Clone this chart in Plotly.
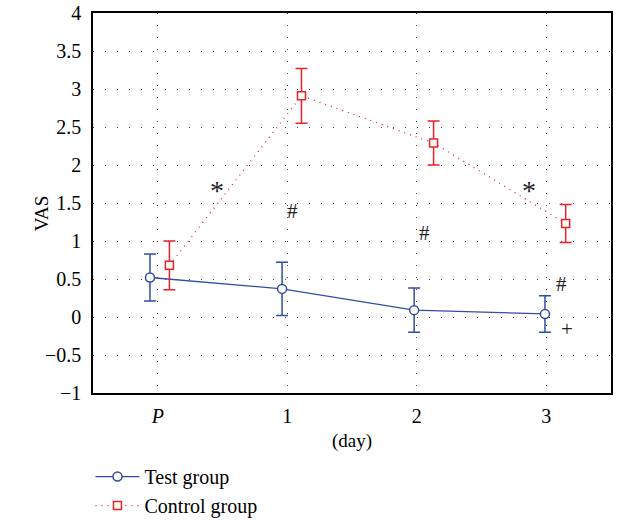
import plotly.graph_objects as go

# Day positions on the x axis (P = pre-operative)
tick_vals = [0, 1, 2, 3]
tick_text = ["<i>P</i>", "1", "2", "3"]

# Test group
test_x = [-0.06, 0.96, 1.98, 2.99]
test_mean = [0.52, 0.37, 0.09, 0.04]
test_err = [0.31, 0.35, 0.29, 0.24]

# Control group
control_x = [0.09, 1.11, 2.13, 3.15]
control_mean = [0.68, 2.91, 2.29, 1.23]
control_err = [0.32, 0.36, 0.29, 0.25]

# Significance marks
mark_text = ["*", "#", "#", "*", "#", "+"]
mark_x = [0.46, 1.04, 2.06, 2.87, 3.12, 3.16]
mark_y = [1.67, 1.39, 1.11, 1.67, 0.44, -0.16]

BLUE = "#2f4fa6"
RED = "#e8232b"
SERIF = "Liberation Serif"

fig = go.Figure()

fig.add_trace(go.Scatter(
    x=test_x, y=test_mean, name="Test group", mode="lines+markers",
    line=dict(color=BLUE, width=1.3),
    marker=dict(symbol="circle", size=9, color="#fffdf5", line=dict(color=BLUE, width=1.5)),
    error_y=dict(type="data", array=test_err, color=BLUE, thickness=1.5, width=6),
))

fig.add_trace(go.Scatter(
    x=control_x, y=control_mean, name="Control group", mode="lines+markers",
    line=dict(color=RED, width=1.3, dash="1px,5px"),
    marker=dict(symbol="square", size=8, color="#fffdf5", line=dict(color=RED, width=1.5)),
    error_y=dict(type="data", array=control_err, color=RED, thickness=1.5, width=6),
))

for t, x, y in zip(mark_text, mark_x, mark_y):
    big = t == "*"
    fig.add_annotation(x=x, y=y, text=t, showarrow=False,
                       font=dict(family=SERIF, size=28 if big else 21, color="#222"))

# y-axis title placed to the left of the tick labels
fig.add_annotation(xref="paper", yref="paper", x=-0.122, y=0.474, text="VAS",
                   textangle=-90, showarrow=False,
                   font=dict(family=SERIF, size=19, color="black"))

axis_common = dict(
    showline=True, linecolor="black", linewidth=1.5, mirror=True,
    showgrid=True, gridcolor="#444", gridwidth=1.2, griddash="1px,11px",
    zeroline=False, ticks="",
    tickfont=dict(family=SERIF, size=20, color="black"),
)

fig.update_layout(
    width=624, height=520,
    margin=dict(l=93, r=13, t=13, b=127, autoexpand=False),
    paper_bgcolor="white", plot_bgcolor="white",
    font=dict(family=SERIF, size=19, color="black"),
    xaxis=dict(range=[-0.5, 3.5], tickvals=tick_vals, ticktext=tick_text,
               automargin=False, ticklabelstandoff=4,
               title=dict(text="(day)", font=dict(family=SERIF, size=19), standoff=8),
               **axis_common),
    yaxis=dict(range=[-1, 4], dtick=0.5, tickformat="~g", automargin=False,
               ticklabelstandoff=6,
               **axis_common),
    legend=dict(x=0.145, y=0.121, xref="container", yref="container",
                xanchor="left", yanchor="top",
                font=dict(family=SERIF, size=20), tracegroupgap=0,
                itemwidth=44, bgcolor="rgba(0,0,0,0)"),
)

fig.write_html("out.html")
